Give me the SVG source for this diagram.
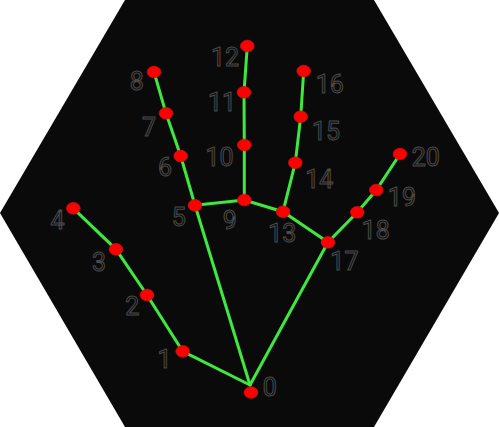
<svg xmlns="http://www.w3.org/2000/svg" width="499" height="427" viewBox="0 0 499 427">
<style>
.bg{fill:#0a0a0a}
.bone{stroke:#3ee83e;stroke-width:3;stroke-linecap:round;fill:none}
.pt{fill:#ff0000;stroke:#d01010;stroke-width:0.8}
.lbl{font-family:Roboto,"Liberation Sans",sans-serif;font-size:25px;fill:#0a0a0a;stroke:#4a4a4a;stroke-width:1;text-anchor:middle}
</style>
<polygon class="bg" points="125,0 374,0 499,213 374,427 125,427 0,213"/>
<g id="connectors">
<polyline class="bone" points="250,385 182.7,351.3 147,295 116,249.3 73.3,208.3"/>
<polyline class="bone" points="250,385 195,205.3 180.7,156 166,113.3 154,72"/>
<polyline class="bone" points="195,205.3 244.3,200 283,211.7 328,242.3 250,385"/>
<polyline class="bone" points="244.3,200 244.3,145 244,92.3 247.3,46"/>
<polyline class="bone" points="283,211.7 295.3,162.7 300.7,116.7 303.7,71"/>
<polyline class="bone" points="328,242.3 357.3,212.3 376.3,190 400,154"/>
</g>
<g id="n0"><ellipse class="pt" cx="251" cy="392.5" rx="6.8" ry="5.8"/><text class="lbl" x="269.7" y="396">0</text></g>
<g id="n1"><ellipse class="pt" cx="182.7" cy="351.3" rx="6.8" ry="5.8"/><text class="lbl" x="164.5" y="367.8">1</text></g>
<g id="n2"><ellipse class="pt" cx="147" cy="295" rx="6.8" ry="5.8"/><text class="lbl" x="132.2" y="314.5">2</text></g>
<g id="n3"><ellipse class="pt" cx="116" cy="249.3" rx="6.8" ry="5.8"/><text class="lbl" x="99" y="270.5">3</text></g>
<g id="n4"><ellipse class="pt" cx="73.3" cy="208.3" rx="6.8" ry="5.8"/><text class="lbl" x="57.5" y="228.8">4</text></g>
<g id="n5"><ellipse class="pt" cx="195" cy="205.3" rx="6.8" ry="5.8"/><text class="lbl" x="178.8" y="225.5">5</text></g>
<g id="n6"><ellipse class="pt" cx="180.7" cy="156" rx="6.8" ry="5.8"/><text class="lbl" x="165" y="175.5">6</text></g>
<g id="n7"><ellipse class="pt" cx="166" cy="113.3" rx="6.8" ry="5.8"/><text class="lbl" x="149" y="136.2">7</text></g>
<g id="n8"><ellipse class="pt" cx="154" cy="72" rx="6.8" ry="5.8"/><text class="lbl" x="136.7" y="90.2">8</text></g>
<g id="n9"><ellipse class="pt" cx="244.3" cy="200" rx="6.8" ry="5.8"/><text class="lbl" x="229.8" y="228.5">9</text></g>
<g id="n10"><ellipse class="pt" cx="244.3" cy="145" rx="6.8" ry="5.8"/><text class="lbl" x="219.5" y="165.8">10</text></g>
<g id="n11"><ellipse class="pt" cx="244" cy="92.3" rx="6.8" ry="5.8"/><text class="lbl" x="222" y="111.2">11</text></g>
<g id="n12"><ellipse class="pt" cx="247.3" cy="46" rx="6.8" ry="5.8"/><text class="lbl" x="225" y="65.5">12</text></g>
<g id="n13"><ellipse class="pt" cx="283" cy="211.7" rx="6.8" ry="5.8"/><text class="lbl" x="282.2" y="242.2">13</text></g>
<g id="n14"><ellipse class="pt" cx="295.3" cy="162.7" rx="6.8" ry="5.8"/><text class="lbl" x="319.2" y="187.5">14</text></g>
<g id="n15"><ellipse class="pt" cx="300.7" cy="116.7" rx="6.8" ry="5.8"/><text class="lbl" x="326" y="139.5">15</text></g>
<g id="n16"><ellipse class="pt" cx="303.7" cy="71" rx="6.8" ry="5.8"/><text class="lbl" x="329.7" y="92.8">16</text></g>
<g id="n17"><ellipse class="pt" cx="328" cy="242.3" rx="6.8" ry="5.8"/><text class="lbl" x="344.4" y="270.2">17</text></g>
<g id="n18"><ellipse class="pt" cx="357.3" cy="212.3" rx="6.8" ry="5.8"/><text class="lbl" x="375.7" y="238.5">18</text></g>
<g id="n19"><ellipse class="pt" cx="376.3" cy="190" rx="6.8" ry="5.8"/><text class="lbl" x="401.9" y="206.2">19</text></g>
<g id="n20"><ellipse class="pt" cx="400" cy="154" rx="6.8" ry="5.8"/><text class="lbl" x="425.8" y="166.2">20</text></g>
</svg>
